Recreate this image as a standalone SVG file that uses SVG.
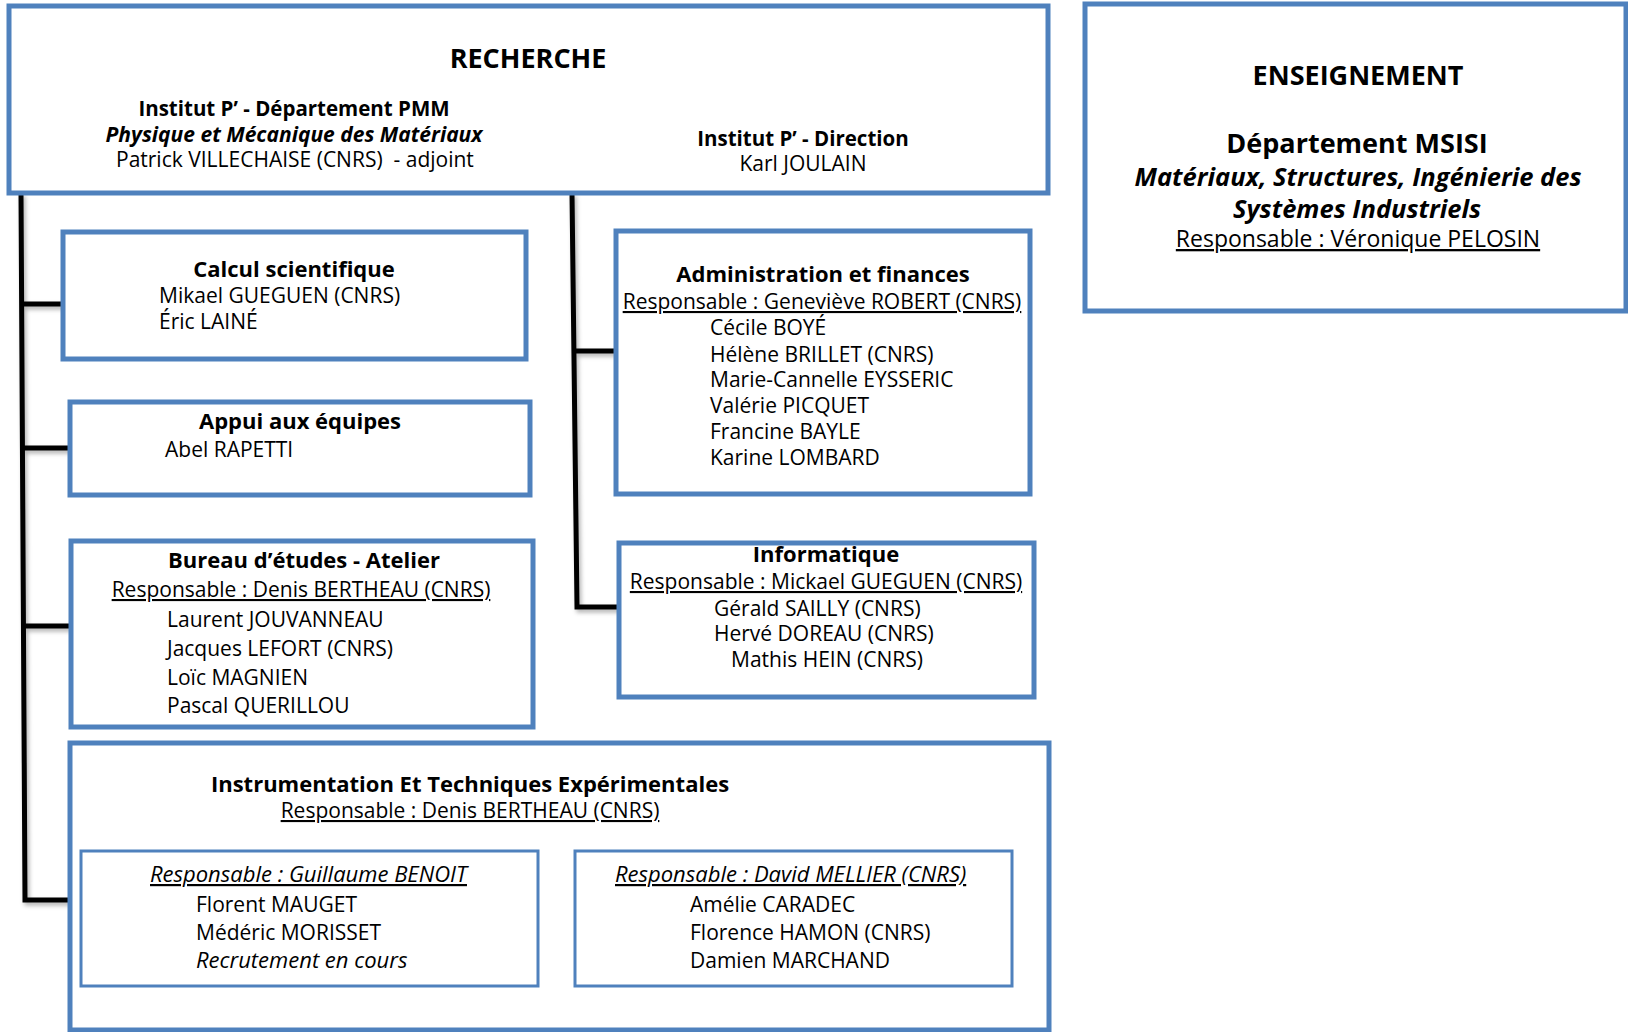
<svg xmlns="http://www.w3.org/2000/svg" width="1628" height="1032" viewBox="0 0 1628 1032">
<defs>
<style>
text{font-family:"Open Sans","Noto Sans",sans-serif;font-size:21px;fill:#000;white-space:pre}
.b{font-weight:bold}
.i{font-style:italic}
.u{text-decoration:underline}
.m{text-anchor:middle}
.t{font-size:22px}
.box{fill:#fff;stroke:#4F81BD;stroke-width:5}
.sub{fill:#fff;stroke:#4F81BD;stroke-width:3}
.con{fill:none;stroke:#000;stroke-width:5}
</style>
<filter id="sh" x="-20%" y="-20%" width="140%" height="140%">
<feDropShadow dx="2" dy="3" stdDeviation="2" flood-color="#000" flood-opacity="0.3"/>
</filter>
</defs>
<rect width="1628" height="1032" fill="#fff"/>

<g id="connectors" filter="url(#sh)">
<path class="con" d="M21,193 L25,900 L70,900"/>
<path class="con" d="M22,304 H63"/>
<path class="con" d="M23,448 H70"/>
<path class="con" d="M24,626 H71"/>
<path class="con" d="M572,193 L577,607 L619,607"/>
<path class="con" d="M574,351 H616"/>
</g>

<g id="recherche">
<rect class="box" x="9" y="6" width="1039" height="187"/>
<text class="b m" x="528" y="68" style="font-size:27px">RECHERCHE</text>
<text class="b m" x="294" y="116" style="font-size:20.5px">Institut P’ - Département PMM</text>
<text class="b i m" x="294" y="142">Physique et Mécanique des Matériaux</text>
<text x="116" y="167">Patrick VILLECHAISE (CNRS)  - adjoint</text>
<text class="b m" x="803" y="146" style="font-size:20.5px">Institut P’ - Direction</text>
<text class="m" x="803" y="171">Karl JOULAIN</text>
</g>

<g id="enseignement">
<rect class="box" x="1085" y="4" width="541" height="307"/>
<text class="b m" x="1358" y="85" style="font-size:27px">ENSEIGNEMENT</text>
<text class="b m" x="1357" y="153" style="font-size:27px">Département MSISI</text>
<text class="b i m" x="1358" y="186" style="font-size:25.5px">Matériaux, Structures, Ingénierie des</text>
<text class="b i m" x="1357" y="218" style="font-size:25.5px">Systèmes Industriels</text>
<text class="u m" x="1358" y="247" style="font-size:23px">Responsable : Véronique PELOSIN</text>
</g>

<g id="calcul">
<rect class="box" x="63" y="232" width="463" height="127"/>
<text class="b m t" x="294" y="277">Calcul scientifique</text>
<text x="159" y="303">Mikael GUEGUEN (CNRS)</text>
<text x="159" y="329">Éric LAINÉ</text>
</g>

<g id="appui">
<rect class="box" x="70" y="402" width="460" height="93"/>
<text class="b m t" x="300" y="429">Appui aux équipes</text>
<text x="165" y="457">Abel RAPETTI</text>
</g>

<g id="bureau">
<rect class="box" x="71" y="541" width="462" height="186"/>
<text class="b m t" x="304" y="568">Bureau d’études - Atelier</text>
<text class="u m" x="301" y="597">Responsable : Denis BERTHEAU (CNRS)</text>
<text x="167" y="627">Laurent JOUVANNEAU</text>
<text x="167" y="656">Jacques LEFORT (CNRS)</text>
<text x="167" y="685">Loïc MAGNIEN</text>
<text x="167" y="713">Pascal QUERILLOU</text>
</g>

<g id="admin">
<rect class="box" x="616" y="231" width="414" height="263"/>
<text class="b m t" x="823" y="282">Administration et finances</text>
<text class="u m" x="822" y="309">Responsable : Geneviève ROBERT (CNRS)</text>
<text x="710" y="335">Cécile BOYÉ</text>
<text x="710" y="362">Hélène BRILLET (CNRS)</text>
<text x="710" y="387">Marie-Cannelle EYSSERIC</text>
<text x="710" y="413">Valérie PICQUET</text>
<text x="710" y="439">Francine BAYLE</text>
<text x="710" y="465">Karine LOMBARD</text>
</g>

<g id="informatique">
<rect class="box" x="619" y="543" width="415" height="154"/>
<text class="b m t" x="826" y="562">Informatique</text>
<text class="u m" x="826" y="589">Responsable : Mickael GUEGUEN (CNRS)</text>
<text x="714" y="616">Gérald SAILLY (CNRS)</text>
<text x="714" y="641">Hervé DOREAU (CNRS)</text>
<text x="731" y="667">Mathis HEIN (CNRS)</text>
</g>

<g id="instrumentation">
<rect class="box" x="70" y="743" width="979" height="287"/>
<text class="b m t" x="470" y="792">Instrumentation Et Techniques Expérimentales</text>
<text class="u m" x="470" y="818">Responsable : Denis BERTHEAU (CNRS)</text>
</g>

<g id="equipe-benoit">
<rect class="sub" x="81" y="851" width="457" height="135"/>
<text class="i u t" x="150" y="882">Responsable : Guillaume BENOIT</text>
<text x="196" y="912">Florent MAUGET</text>
<text x="196" y="940">Médéric MORISSET</text>
<text class="i t" x="196" y="968">Recrutement en cours</text>
</g>

<g id="equipe-mellier">
<rect class="sub" x="575" y="851" width="437" height="135"/>
<text class="i u t" x="615" y="882">Responsable : David MELLIER (CNRS)</text>
<text x="690" y="912">Amélie CARADEC</text>
<text x="690" y="940">Florence HAMON (CNRS)</text>
<text x="690" y="968">Damien MARCHAND</text>
</g>
</svg>
